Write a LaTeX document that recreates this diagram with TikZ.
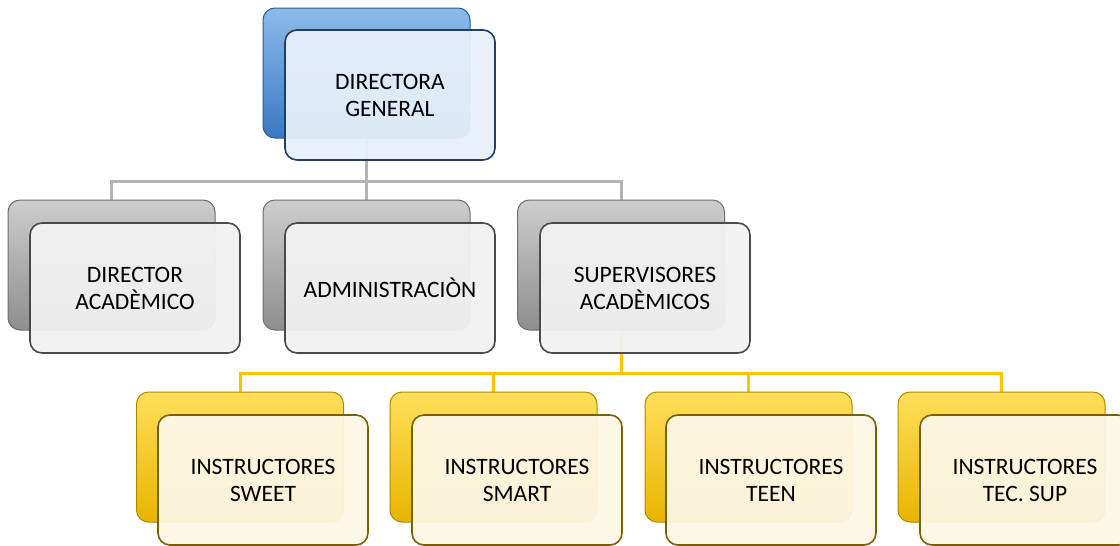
\documentclass[tikz,border=0pt]{standalone}
\usepackage{fontspec}
\setmainfont{Carlito}
\usepackage{tikz}
\usetikzlibrary{positioning, calc}
\definecolor{bluetop}{HTML}{8DBBEA}
\definecolor{bluebot}{HTML}{3A78C2}
\definecolor{blueedge}{HTML}{2B5C96}
\definecolor{bluefront}{HTML}{E8F0FA}
\definecolor{blueline}{HTML}{1F3F66}
\definecolor{graytop}{HTML}{CDCDCD}
\definecolor{graybot}{HTML}{8E8E8E}
\definecolor{grayedge}{HTML}{6E6E6E}
\definecolor{grayfront}{HTML}{F2F2F2}
\definecolor{grayline}{HTML}{4A4A4A}
\definecolor{conngray}{HTML}{B4B4B4}
\definecolor{goldtop}{HTML}{FFDF5A}
\definecolor{goldbot}{HTML}{E8B400}
\definecolor{goldedge}{HTML}{B08800}
\definecolor{goldfront}{HTML}{FCF7E6}
\definecolor{goldline}{HTML}{7A6000}
\definecolor{conngold}{HTML}{FFC400}

\begin{document}
\begin{tikzpicture}[x=1pt, y=-1pt,
	back/.style={rounded corners=12pt, minimum width=207pt, minimum height=130pt, line width=1pt, inner sep=0pt},
	front/.style={rounded corners=12pt, minimum width=210pt, minimum height=130pt, line width=1.6pt, fill opacity=0.94, text opacity=1, align=center, inner sep=0pt, font=\fontsize{23.5}{27}\selectfont},
	blueback/.style={back, top color=bluetop, bottom color=bluebot, draw=blueedge},
	bluebox/.style={front, fill=bluefront, draw=blueline},
	grayback/.style={back, top color=graytop, bottom color=graybot, draw=grayedge},
	graybox/.style={front, fill=grayfront, draw=grayline},
	goldback/.style={back, top color=goldtop, bottom color=goldbot, draw=goldedge},
	goldbox/.style={front, fill=goldfront, draw=goldline},
	gline/.style={conngray, line width=3pt},
	yline/.style={conngold, line width=3pt}]
	\useasboundingbox[fill=white] (0,0) rectangle (1120,546);

	\coordinate (dgb) at (366.5,73);
	\coordinate (dab) at (111.5,265);
	\coordinate (admb) at (366.5,265);
	\coordinate (supb) at (621,265);
	\coordinate (swtb) at (240,457);
	\coordinate (smtb) at (493.5,457);
	\coordinate (tenb) at (748.5,457);
	\coordinate (tecb) at (1001.5,457);

	\draw[gline] (dgb) -- ++(0,108) -| (dab);
	\draw[gline] (dgb) -- ++(0,108) -| (admb);
	\draw[gline] (dgb) -- ++(0,108) -| (supb);
	\draw[yline] (supb) -- ++(0,108) -| (swtb);
	\draw[yline] (supb) -- ++(0,108) -| (smtb);
	\draw[yline] (supb) -- ++(0,108) -| (tenb);
	\draw[yline] (supb) -- ++(0,108) -| (tecb);

	\node[blueback] (dgback) at (dgb) {};
	\node[bluebox] (dg) at ([shift={(23.5,22)}]dgb) {DIRECTORA\\GENERAL};

	\node[grayback] (daback) at (dab) {};
	\node[graybox] (da) at ([shift={(23.5,23)}]dab) {DIRECTOR\\ACADÈMICO};
	\node[grayback] (admback) at (admb) {};
	\node[graybox] (adm) at ([shift={(23.5,23)}]admb) {ADMINISTRACIÒN};
	\node[grayback] (supback) at (supb) {};
	\node[graybox] (sup) at ([shift={(24,23)}]supb) {SUPERVISORES\\ACADÈMICOS};

	\node[goldback] (swtback) at (swtb) {};
	\node[goldbox] (swt) at ([shift={(23,23)}]swtb) {INSTRUCTORES\\SWEET};
	\node[goldback] (smtback) at (smtb) {};
	\node[goldbox] (smt) at ([shift={(23.5,23)}]smtb) {INSTRUCTORES\\SMART};
	\node[goldback] (tenback) at (tenb) {};
	\node[goldbox] (ten) at ([shift={(22.5,23)}]tenb) {INSTRUCTORES\\TEEN};
	\node[goldback] (tecback) at (tecb) {};
	\node[goldbox] (tec) at ([shift={(23.5,23)}]tecb) {INSTRUCTORES\\TEC. SUP};
\end{tikzpicture}
\end{document}
